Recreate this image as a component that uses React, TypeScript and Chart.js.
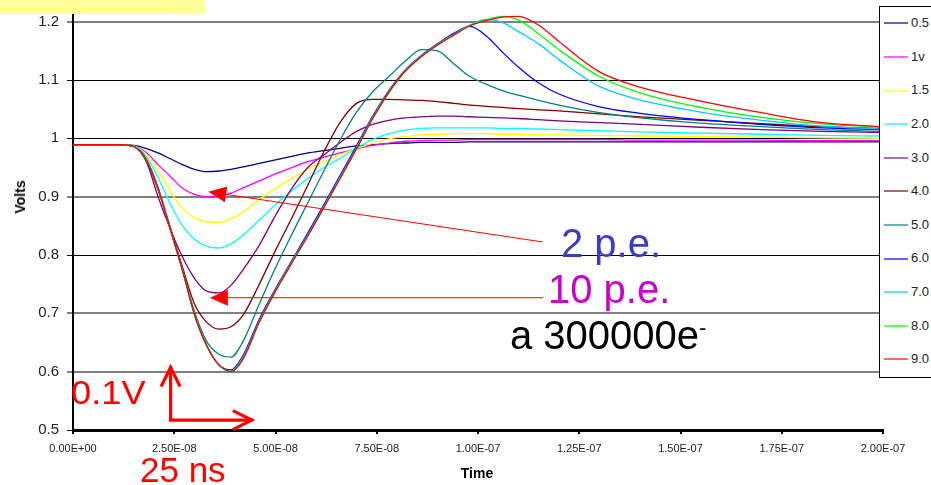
import React, { useEffect, useRef } from 'react';
import { Chart, registerables } from 'chart.js';

Chart.register(...registerables);

// ---------- data ----------
const timeNs = [0, 12, 15, 18, 21, 24, 27, 30, 33, 36, 39, 42, 46, 50, 54, 58, 62, 66, 70, 74, 78, 82, 86, 90, 94, 98, 102, 106, 110, 115, 120, 130, 140, 155, 170, 185, 200];

const seriesNames = ['0.5', '1v', '1.5', '2.0', '3.0', '4.0', '5.0', '6.0', '7.0', '8.0', '9.0'];

const v05 = [0.989, 0.989, 0.988, 0.983, 0.975, 0.965, 0.955, 0.947, 0.943, 0.944, 0.947, 0.951, 0.957, 0.963, 0.969, 0.975, 0.979, 0.983, 0.987, 0.989, 0.991, 0.992, 0.993, 0.993, 0.993, 0.994, 0.994, 0.994, 0.994, 0.994, 0.994, 0.994, 0.994, 0.994, 0.994, 0.994, 0.994];
const v1 = [0.989, 0.989, 0.987, 0.976, 0.955, 0.935, 0.915, 0.904, 0.9, 0.901, 0.906, 0.915, 0.927, 0.939, 0.95, 0.96, 0.968, 0.975, 0.982, 0.988, 0.992, 0.995, 0.996, 0.997, 0.997, 0.998, 0.998, 0.998, 0.998, 0.998, 0.998, 0.998, 0.997, 0.997, 0.997, 0.996, 0.996];
const v15 = [0.989, 0.989, 0.987, 0.973, 0.945, 0.91, 0.88, 0.864, 0.857, 0.856, 0.862, 0.874, 0.895, 0.914, 0.931, 0.947, 0.96, 0.972, 0.983, 0.992, 0.999, 1.003, 1.006, 1.007, 1.008, 1.008, 1.008, 1.007, 1.007, 1.006, 1.006, 1.005, 1.004, 1.003, 1.002, 1.001, 1.0];
const v2 = [0.989, 0.989, 0.987, 0.97, 0.933, 0.888, 0.851, 0.827, 0.815, 0.812, 0.819, 0.834, 0.86, 0.886, 0.91, 0.931, 0.95, 0.966, 0.983, 0.998, 1.008, 1.014, 1.017, 1.018, 1.018, 1.018, 1.018, 1.017, 1.017, 1.016, 1.015, 1.013, 1.011, 1.009, 1.007, 1.005, 1.004];
const v3 = [0.989, 0.989, 0.986, 0.962, 0.9, 0.845, 0.797, 0.76, 0.738, 0.735, 0.748, 0.775, 0.817, 0.868, 0.914, 0.95, 0.972, 0.993, 1.012, 1.024, 1.031, 1.035, 1.037, 1.038, 1.038, 1.037, 1.036, 1.035, 1.034, 1.032, 1.03, 1.027, 1.024, 1.019, 1.015, 1.012, 1.01];
const v4 = [0.989, 0.989, 0.986, 0.962, 0.912, 0.848, 0.78, 0.716, 0.685, 0.673, 0.677, 0.697, 0.75, 0.808, 0.863, 0.92, 0.978, 1.028, 1.06, 1.067, 1.067, 1.066, 1.065, 1.063, 1.06, 1.057, 1.055, 1.053, 1.051, 1.049, 1.047, 1.042, 1.037, 1.031, 1.025, 1.02, 1.017];
const v5 = [0.989, 0.989, 0.986, 0.964, 0.914, 0.845, 0.775, 0.703, 0.652, 0.63, 0.625, 0.652, 0.716, 0.778, 0.835, 0.89, 0.945, 0.998, 1.045, 1.08, 1.106, 1.132, 1.152, 1.15, 1.128, 1.106, 1.093, 1.082, 1.074, 1.065, 1.057, 1.044, 1.035, 1.026, 1.02, 1.015, 1.012];
const v6 = [0.989, 0.989, 0.986, 0.965, 0.915, 0.845, 0.775, 0.698, 0.645, 0.612, 0.603, 0.628, 0.69, 0.742, 0.79, 0.838, 0.887, 0.937, 0.987, 1.038, 1.082, 1.117, 1.142, 1.162, 1.18, 1.192, 1.176, 1.148, 1.122, 1.095, 1.076, 1.054, 1.043, 1.032, 1.024, 1.018, 1.015];
const v7 = [0.989, 0.989, 0.986, 0.965, 0.915, 0.845, 0.775, 0.698, 0.645, 0.612, 0.601, 0.625, 0.687, 0.74, 0.788, 0.835, 0.884, 0.934, 0.984, 1.036, 1.08, 1.116, 1.141, 1.161, 1.178, 1.194, 1.204, 1.199, 1.183, 1.162, 1.135, 1.089, 1.066, 1.045, 1.031, 1.021, 1.016];
const v8 = [0.989, 0.989, 0.986, 0.965, 0.915, 0.845, 0.775, 0.698, 0.645, 0.612, 0.6, 0.622, 0.685, 0.738, 0.786, 0.833, 0.882, 0.932, 0.982, 1.034, 1.079, 1.115, 1.14, 1.16, 1.177, 1.193, 1.203, 1.209, 1.203, 1.179, 1.152, 1.106, 1.078, 1.053, 1.036, 1.025, 1.019];
const v9 = [0.989, 0.989, 0.986, 0.965, 0.915, 0.845, 0.775, 0.698, 0.645, 0.612, 0.6, 0.622, 0.685, 0.738, 0.786, 0.833, 0.882, 0.932, 0.982, 1.034, 1.079, 1.115, 1.14, 1.16, 1.177, 1.193, 1.202, 1.208, 1.209, 1.194, 1.166, 1.114, 1.088, 1.064, 1.044, 1.027, 1.02];

const seriesValues = [v05, v1, v15, v2, v3, v4, v5, v6, v7, v8, v9];

const yTickValues = [0.5, 0.6, 0.7, 0.8, 0.9, 1.0, 1.1, 1.2];
const yTickLabels = ['0.5', '0.6', '0.7', '0.8', '0.9', '1', '1.1', '1.2'];
const xTickValues = [0, 25, 50, 75, 100, 125, 150, 175, 200];
const xTickLabels = ['0.00E+00', '2.50E-08', '5.00E-08', '7.50E-08', '1.00E-07', '1.25E-07', '1.50E-07', '1.75E-07', '2.00E-07'];

// ---------- styles ----------
const seriesColors = ['#000080', '#ff00ff', '#ffff00', '#00ffff', '#800080', '#800000', '#008080', '#0000ff', '#00ccff', '#00ff00', '#ff0000'];
const yGridColors = ['#000000', '#808080', '#808080', '#000000', '#808080', '#000000', '#000000', '#808080'];
const yGridWidths = [1, 2, 2, 1, 2, 1, 1, 2];
const FONT = "'Liberation Sans', Arial, sans-serif";

// annotation arrows in data coordinates (time ns, volts)
const arrow2pe = { from: [116, 0.8223], to: [33.4, 0.9085] };
const arrow10pe = { from: [116, 0.7268], to: [33.8, 0.7268] };
const scaleBar = { corner: [24.1, 0.517], vTip: 0.609, hTip: 44.4 };

const annotationPlugin = {
  id: 'annotArrows',
  afterDraw(chart: any) {
    const { ctx, scales } = chart;
    const xs = scales.x, ys = scales.y;
    const px = (t: number) => xs.getPixelForValue(t);
    const py = (v: number) => ys.getPixelForValue(v);
    ctx.save();
    const thin = (a: any) => {
      const x1 = px(a.from[0]), y1 = py(a.from[1]);
      const x2 = px(a.to[0]), y2 = py(a.to[1]);
      const ang = Math.atan2(y2 - y1, x2 - x1);
      const hl = 18, hw = 8;
      const bx = x2 - hl * Math.cos(ang), by = y2 - hl * Math.sin(ang);
      ctx.strokeStyle = '#ff0000';
      ctx.lineWidth = 1;
      ctx.beginPath();
      ctx.moveTo(x1, y1);
      ctx.lineTo(bx, by);
      ctx.stroke();
      ctx.fillStyle = '#ff0000';
      ctx.beginPath();
      ctx.moveTo(x2, y2);
      ctx.lineTo(bx + hw * Math.sin(ang), by - hw * Math.cos(ang));
      ctx.lineTo(bx - hw * Math.sin(ang), by + hw * Math.cos(ang));
      ctx.closePath();
      ctx.fill();
    };
    thin(arrow2pe);
    thin(arrow10pe);
    const cx = px(scaleBar.corner[0]), cy = py(scaleBar.corner[1]);
    const vy = py(scaleBar.vTip), hx = px(scaleBar.hTip);
    ctx.strokeStyle = '#ff0000';
    ctx.lineWidth = 3.2;
    ctx.lineJoin = 'miter';
    ctx.lineCap = 'butt';
    ctx.beginPath();
    ctx.moveTo(cx, vy);
    ctx.lineTo(cx, cy);
    ctx.lineTo(hx, cy);
    ctx.stroke();
    ctx.beginPath();
    ctx.moveTo(cx - 9.5, vy + 20);
    ctx.lineTo(cx, vy + 1);
    ctx.lineTo(cx + 9.5, vy + 20);
    ctx.stroke();
    ctx.beginPath();
    ctx.moveTo(hx - 20, cy - 9.5);
    ctx.lineTo(hx - 1, cy);
    ctx.lineTo(hx - 20, cy + 9.5);
    ctx.stroke();
    ctx.restore();
  },
};

export default function App() {
  const canvasRef = useRef<HTMLCanvasElement | null>(null);

  useEffect(() => {
    if (!canvasRef.current) return;
    const datasets = seriesNames.map((name, i) => ({
      label: name,
      data: timeNs.map((t, j) => ({ x: t, y: seriesValues[i][j] })),
      borderColor: seriesColors[i],
      backgroundColor: seriesColors[i],
      borderWidth: 1.3,
      pointRadius: 0,
      fill: false,
      cubicInterpolationMode: 'monotone' as const,
      order: seriesNames.length - 1 - i,
    }));

    const chart = new Chart(canvasRef.current, {
      type: 'line',
      data: { datasets },
      options: {
        animation: false,
        responsive: true,
        maintainAspectRatio: false,
        layout: { padding: { left: 0, right: 48, top: 0, bottom: 0 } },
        plugins: { legend: { display: false }, tooltip: { enabled: false } },
        events: [],
        scales: {
          x: {
            type: 'linear',
            min: 0,
            max: 200,
            afterBuildTicks: (s: any) => {
              s.ticks = xTickValues.map((v) => ({ value: v }));
            },
            afterFit: (s: any) => {
              s.height = 55;
              s.paddingLeft = 0;
              s.paddingRight = 0;
            },
            ticks: {
              autoSkip: false,
              maxRotation: 0,
              padding: 8,
              color: '#222',
              font: { family: FONT, size: 11 },
              callback: (_v: any, i: number) => xTickLabels[i],
            },
            grid: { drawOnChartArea: false, drawTicks: true, tickLength: 4, color: '#000', lineWidth: 2 },
            border: { display: true, color: '#000', width: 3 },
          },
          y: {
            type: 'linear',
            min: 0.5,
            max: 1.2372,
            afterBuildTicks: (s: any) => {
              s.ticks = yTickValues.map((v) => ({ value: v }));
            },
            afterFit: (s: any) => {
              s.width = 73;
              s.paddingTop = 0;
              s.paddingBottom = 0;
            },
            ticks: {
              autoSkip: false,
              padding: 8,
              color: '#222',
              font: { family: FONT, size: 15 },
              callback: (_v: any, i: number) => yTickLabels[i],
            },
            grid: {
              drawTicks: true,
              tickLength: 6,
              color: (c: any) => yGridColors[c.index] ?? '#000',
              lineWidth: (c: any) => yGridWidths[c.index] ?? 1,
            },
            border: { display: true, color: '#000', width: 2 },
          },
        },
      },
      plugins: [annotationPlugin],
    });
    return () => chart.destroy();
  }, []);

  const abs = (s: React.CSSProperties): React.CSSProperties => ({ position: 'absolute', fontFamily: FONT, lineHeight: 1, whiteSpace: 'nowrap', margin: 0, ...s });

  return (
    <div style={{ position: 'absolute', left: 0, top: 0, width: 931, height: 485, background: '#fff', overflow: 'hidden' }}>
      <canvas ref={canvasRef} />
      <div style={abs({ left: 0, top: 0, width: 205, height: 14, background: '#ffff99' })} />
      <div style={abs({ left: 20, top: 197, fontSize: 14, fontWeight: 'bold', color: '#000', transform: 'translate(-50%, -50%) rotate(-90deg)' })}>Volts</div>
      <div style={abs({ left: 440, top: 466, width: 74, textAlign: 'center', fontSize: 14, fontWeight: 'bold', color: '#000' })}>Time</div>
      <div style={abs({ left: 561, top: 223, fontSize: 40, color: '#3b3bc8' })}>2 p.e.</div>
      <div style={abs({ left: 548, top: 269, fontSize: 40, color: '#cc00cc' })}>10 p.e.</div>
      <div style={abs({ left: 510, top: 314.5, fontSize: 40, color: '#000' })}>a 300000e<sup style={{ fontSize: 22, verticalAlign: 'super', lineHeight: 0 }}>-</sup></div>
      <div style={abs({ left: 71, top: 375.5, fontSize: 33, color: '#ff0000', transform: 'scaleX(1.1)', transformOrigin: 'left top' })}>0.1V</div>
      <div style={abs({ left: 140, top: 452, fontSize: 35, color: '#ff0000' })}>25 ns</div>
      <div style={abs({ left: 879, top: 6, width: 70, height: 372, border: '1px solid #000', background: '#fff', boxSizing: 'border-box' })} />
      {seriesNames.map((n, i) => (
        <React.Fragment key={n}>
          <div style={abs({ left: 884, top: 22.3 + i * 33.6, width: 24, height: 2, background: seriesColors[i], opacity: 0.6 })} />
          <div style={abs({ left: 911, top: 16.2 + i * 33.6, fontSize: 13, color: '#222' })}>{n}</div>
        </React.Fragment>
      ))}
    </div>
  );
}
